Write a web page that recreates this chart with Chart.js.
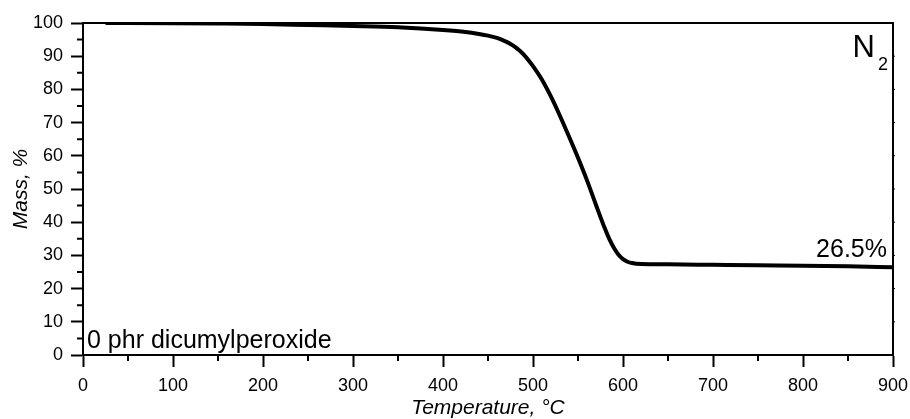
<!DOCTYPE html>
<html>
<head>
<meta charset="utf-8">
<script src="https://cdn.jsdelivr.net/npm/chart.js@4.4.1/dist/chart.umd.min.js"></script>
<style>
  html, body { margin: 0; padding: 0; background: #fff; }
  #wrap { width: 910px; height: 419px; }
</style>
</head>
<body>
<div id="wrap"><canvas id="tga"></canvas></div>
<script>
// TGA curve (temperature in °C, mass in %)
const temperature = [25, 100, 150, 200, 250, 300, 350, 400, 425, 440, 450, 460, 465, 470, 475, 480, 485, 490, 495, 500, 510, 520, 530, 540, 550, 560, 570, 580, 585, 590, 595, 600, 605, 610, 620, 650, 700, 750, 800, 850, 900];
const mass = [100, 99.95, 99.85, 99.7, 99.4, 99.1, 98.7, 97.9, 97.3, 96.7, 96.2, 95.5, 95.0, 94.4, 93.7, 92.8, 91.7, 90.4, 88.8, 87.0, 82.9, 77.8, 72.0, 65.8, 59.4, 52.6, 45.2, 38.0, 34.8, 32.2, 30.2, 28.9, 28.1, 27.7, 27.4, 27.3, 27.15, 27.0, 26.9, 26.7, 26.4];

const xMinorTicks = [50, 150, 250, 350, 450, 550, 650, 750, 850];
const yMinorTicks = [5, 15, 25, 35, 45, 55, 65, 75, 85, 95];
const yMajorTicks = [10, 20, 30, 40, 50, 60, 70, 80, 90];

const FONT = "'Liberation Sans', Arial, sans-serif";

const points = temperature.map((t, i) => ({ x: t, y: mass[i] }));

// frame, minor ticks and text labels
const decorations = {
    id: 'decorations',
    afterDraw(chart) {
        const { ctx, chartArea: a, scales: { x, y } } = chart;
        ctx.save();
        ctx.strokeStyle = '#000';
        ctx.lineWidth = 2;
        ctx.beginPath();
        ctx.moveTo(a.left, a.top);
        ctx.lineTo(a.right, a.top);
        ctx.lineTo(a.right, a.bottom);
        ctx.stroke();

        ctx.beginPath();
        xMinorTicks.forEach(v => {
            const px = x.getPixelForValue(v);
            ctx.moveTo(px, a.bottom);
            ctx.lineTo(px, a.bottom + 6);
        });
        yMinorTicks.forEach(v => {
            const py = y.getPixelForValue(v);
            ctx.moveTo(a.left, py);
            ctx.lineTo(a.left - 6, py);
        });
        ctx.stroke();

        ctx.lineWidth = 1;
        ctx.beginPath();
        yMajorTicks.forEach(v => {
            const py = y.getPixelForValue(v);
            ctx.moveTo(a.right, py);
            ctx.lineTo(a.right + 2, py);
        });
        ctx.stroke();

        ctx.fillStyle = '#000';
        ctx.textBaseline = 'alphabetic';
        ctx.textAlign = 'right';
        ctx.font = '31px ' + FONT;
        ctx.fillText('N', a.right - 18, a.top + 34);
        ctx.font = '18px ' + FONT;
        ctx.fillText('2', a.right - 5, a.top + 47);

        ctx.font = '25px ' + FONT;
        ctx.fillText('26.5%', a.right - 6, a.top + 234);

        ctx.textAlign = 'left';
        ctx.fillText('0 phr dicumylperoxide', a.left + 4, a.bottom - 7);
        ctx.restore();
    }
};

new Chart(document.getElementById('tga'), {
    type: 'line',
    data: {
        datasets: [{
            data: points,
            borderColor: '#000',
            borderWidth: 4,
            pointRadius: 0,
            cubicInterpolationMode: 'monotone',
            fill: false
        }]
    },
    options: {
        responsive: true,
        maintainAspectRatio: false,
        animation: false,
        layout: { padding: { top: 23, right: 17, left: 0, bottom: 0 } },
        plugins: {
            legend: { display: false },
            tooltip: { enabled: false }
        },
        scales: {
            x: {
                type: 'linear',
                min: 0,
                max: 900,
                afterFit: s => { s.height = 64; s.paddingRight = 0; },
                ticks: {
                    stepSize: 100,
                    color: '#000',
                    padding: 8,
                    maxRotation: 0,
                    font: { family: FONT, size: 18 }
                },
                grid: {
                    drawOnChartArea: false,
                    tickLength: 12,
                    tickWidth: 2,
                    tickColor: '#000'
                },
                border: { display: true, color: '#000', width: 2 },
                title: {
                    display: true,
                    text: 'Temperature, °C',
                    color: '#000',
                    padding: { top: 0, bottom: 0 },
                    font: { family: FONT, size: 21, style: 'italic', lineHeight: 1 }
                }
            },
            y: {
                min: 0,
                max: 100,
                afterFit: s => { s.width = 83; },
                ticks: {
                    stepSize: 10,
                    color: '#000',
                    padding: 8,
                    font: { family: FONT, size: 18 }
                },
                grid: {
                    drawOnChartArea: false,
                    tickLength: 12,
                    tickWidth: 2,
                    tickColor: '#000'
                },
                border: { display: true, color: '#000', width: 2 },
                title: {
                    display: true,
                    text: 'Mass, %',
                    color: '#000',
                    padding: { top: 11, bottom: 0 },
                    font: { family: FONT, size: 21, style: 'italic', lineHeight: 1 }
                }
            }
        }
    },
    plugins: [decorations]
});
</script>
</body>
</html>
